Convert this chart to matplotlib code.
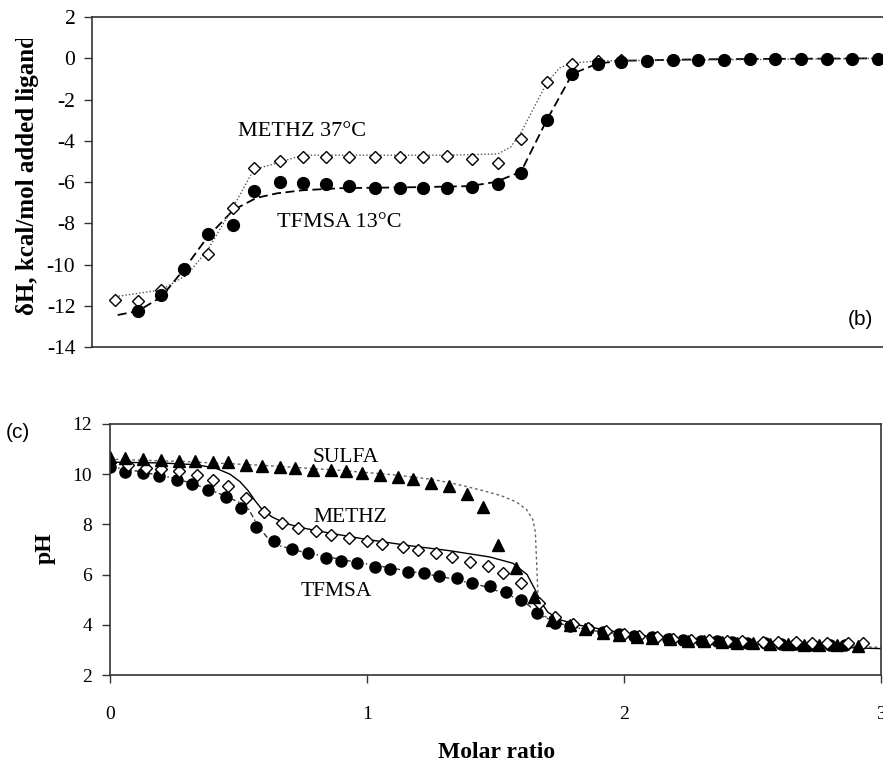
import matplotlib
matplotlib.use("Agg")
import matplotlib.pyplot as plt
from matplotlib.transforms import Bbox, TransformedBbox

plt.rcParams["font.family"] = ["Liberation Serif", "DejaVu Serif"]
plt.rcParams["axes.unicode_minus"] = False

# ---- panel (b): enthalpy vs molar ratio ----
x_b = [0.02, 0.11, 0.20, 0.29, 0.38, 0.48, 0.56, 0.66, 0.75, 0.84, 0.93, 1.03, 1.13, 1.22, 1.31, 1.41,
       1.51, 1.60, 1.70, 1.80, 1.90, 1.99, 2.09, 2.19, 2.29, 2.39, 2.49, 2.59, 2.69, 2.79, 2.89, 2.99]
methz_b = [-11.7, -11.75, -11.25, -10.25, -9.5, -7.25, -5.3, -5.0, -4.8, -4.8, -4.8, -4.8, -4.8, -4.8,
           -4.75, -4.9, -5.1, -3.9, -1.15, -0.3, -0.15, -0.1]
tfmsa_b = [-12.25, -11.5, -10.2, -8.5, -8.1, -6.45, -6.0, -6.05, -6.1, -6.2, -6.3, -6.3, -6.3, -6.3,
           -6.25, -6.1, -5.55, -3.0, -0.75, -0.3, -0.2, -0.15, -0.1, -0.1, -0.1, -0.05, -0.05, -0.05,
           -0.05, -0.05, -0.05]

fit_tfmsa_b_x = [0.03, 0.11, 0.20, 0.29, 0.38, 0.48, 0.57, 0.65, 0.75, 0.9, 1.2, 1.4, 1.5, 1.6, 1.7,
                 1.8, 1.9, 2.0, 2.3, 3.05]
fit_tfmsa_b_y = [-12.45, -12.25, -11.57, -10.2, -8.66, -7.36, -6.77, -6.55, -6.4, -6.3, -6.25, -6.2,
                 -6.0, -5.5, -3.0, -0.75, -0.25, -0.12, -0.05, 0.0]
fit_methz_b_x = [0.02, 0.20, 0.30, 0.38, 0.48, 0.56, 0.65, 0.75, 1.31, 1.51, 1.56, 1.60, 1.65, 1.70,
                 1.75, 1.80, 1.90, 3.05]
fit_methz_b_y = [-11.56, -11.23, -10.5, -9.3, -7.2, -5.4, -5.08, -4.7, -4.7, -4.64, -4.3, -3.6, -2.4,
                 -1.2, -0.47, -0.23, -0.13, 0.0]

# ---- panel (c): pH vs molar ratio ----
x_sulfa = [0.00, 0.06, 0.13, 0.20, 0.27, 0.33, 0.40, 0.46, 0.53, 0.59, 0.66, 0.72, 0.79, 0.86, 0.92,
           0.98, 1.05, 1.12, 1.18, 1.25, 1.32, 1.39, 1.45, 1.51, 1.58, 1.65, 1.72, 1.79, 1.85, 1.92,
           1.98, 2.05, 2.11, 2.18, 2.25, 2.31, 2.38, 2.44, 2.50, 2.57, 2.64, 2.70, 2.76, 2.83, 2.91]
ph_sulfa = [10.7, 10.64, 10.6, 10.55, 10.54, 10.51, 10.47, 10.47, 10.38, 10.34, 10.28, 10.25, 10.18,
            10.15, 10.11, 10.05, 9.98, 9.89, 9.81, 9.65, 9.54, 9.21, 8.69, 7.19, 6.26, 5.12, 4.19, 3.99,
            3.82, 3.69, 3.60, 3.53, 3.46, 3.42, 3.37, 3.37, 3.33, 3.29, 3.26, 3.24, 3.24, 3.20, 3.20,
            3.20, 3.17]

x_methz = [0.07, 0.14, 0.20, 0.27, 0.34, 0.40, 0.46, 0.53, 0.60, 0.67, 0.73, 0.80, 0.86, 0.93, 1.00,
           1.06, 1.14, 1.20, 1.27, 1.33, 1.40, 1.47, 1.53, 1.60, 1.67, 1.73, 1.80, 1.86, 1.93, 2.00,
           2.06, 2.13, 2.19, 2.26, 2.33, 2.40, 2.46, 2.54, 2.60, 2.67, 2.73, 2.79, 2.87, 2.93]
ph_methz = [10.38, 10.23, 10.21, 10.11, 9.98, 9.78, 9.54, 9.05, 8.51, 8.07, 7.85, 7.72, 7.56, 7.45,
            7.32, 7.21, 7.08, 6.99, 6.85, 6.69, 6.52, 6.36, 6.06, 5.66, 4.86, 4.3, 4.05, 3.88, 3.75,
            3.65, 3.57, 3.50, 3.45, 3.40, 3.38, 3.36, 3.34, 3.32, 3.31, 3.30, 3.29, 3.28, 3.27, 3.26]

x_tfmsa = [0.00, 0.06, 0.13, 0.19, 0.26, 0.32, 0.38, 0.45, 0.51, 0.57, 0.64, 0.71, 0.77, 0.84, 0.90,
           0.96, 1.03, 1.09, 1.16, 1.22, 1.28, 1.35, 1.41, 1.48, 1.54, 1.60, 1.66, 1.73, 1.79, 1.86,
           1.92, 1.98, 2.04, 2.11, 2.17, 2.23, 2.30, 2.36, 2.42, 2.48, 2.55, 2.61, 2.67, 2.73, 2.80,
           2.86]
ph_tfmsa = [10.30, 10.10, 10.06, 9.94, 9.78, 9.62, 9.38, 9.08, 8.66, 7.88, 7.32, 7.01, 6.85, 6.65,
            6.55, 6.46, 6.32, 6.22, 6.12, 6.06, 5.95, 5.86, 5.68, 5.55, 5.32, 4.99, 4.49, 4.09, 3.95,
            3.82, 3.72, 3.63, 3.56, 3.50, 3.45, 3.41, 3.37, 3.34, 3.31, 3.28, 3.26, 3.24, 3.22, 3.21,
            3.20, 3.19]

fit_sulfa_x = [0.0, 0.3, 0.6, 0.9, 1.1, 1.25, 1.35, 1.45, 1.52, 1.58, 1.62, 1.645, 1.655, 1.66, 1.665,
               1.667, 1.69, 1.75, 1.85, 2.0, 2.3, 2.6, 3.0]
fit_sulfa_y = [10.6, 10.5, 10.35, 10.15, 9.98, 9.8, 9.6, 9.35, 9.15, 8.9, 8.6, 8.2, 7.7, 6.5, 5.2, 4.7,
               4.35, 4.05, 3.82, 3.6, 3.4, 3.25, 3.1]
fit_methz_x = [0.0, 0.195, 0.331, 0.409, 0.467, 0.506, 0.537, 0.564, 0.591, 0.630, 0.681, 0.739, 0.856,
               1.0, 1.167, 1.323, 1.479, 1.568, 1.623, 1.654, 1.677, 1.704, 1.751, 1.829, 2.023, 2.296,
               2.541, 2.93, 3.0]
fit_methz_y = [10.48, 10.45, 10.38, 10.25, 10.0, 9.7, 9.35, 8.95, 8.6, 8.3, 8.05, 7.88, 7.65, 7.4,
               7.15, 6.95, 6.7, 6.45, 6.0, 5.4, 4.9, 4.5, 4.2, 3.98, 3.62, 3.35, 3.2, 3.07, 3.05]
fit_tfmsa_x = [0.0, 0.13, 0.26, 0.38, 0.45, 0.51, 0.54, 0.575, 0.61, 0.66, 0.75, 0.9, 1.1, 1.3, 1.45,
               1.55, 1.62, 1.68, 1.75, 1.85, 2.0, 2.3, 2.6, 2.9]
fit_tfmsa_y = [10.3, 10.08, 9.82, 9.42, 9.12, 8.85, 8.6, 7.95, 7.5, 7.15, 6.9, 6.6, 6.25, 5.9, 5.55,
               5.2, 4.85, 4.35, 4.05, 3.8, 3.62, 3.4, 3.27, 3.2]

W, H = 883, 761
fig = plt.figure(figsize=(W / 100, H / 100), dpi=100)


def fpos(x, y):
    return x / W, 1 - y / H


spine_col = "#333333"

# top panel (b)
ax1 = fig.add_axes([92 / W, 1 - 347 / H, (900 - 92) / W, 330 / H])
ax1.plot(fit_tfmsa_b_x, fit_tfmsa_b_y, color="black", lw=1.3, ls=(0, (5, 2.5)))
ax1.plot(fit_methz_b_x, fit_methz_b_y, color="#555555", lw=1.0, ls=(0, (1, 1.5)))
ax1.plot(x_b[:len(methz_b)], methz_b, ls="none", marker="D", ms=6.5, mfc="white", mec="black", mew=1.0)
ax1.plot(x_b[1:], tfmsa_b, ls="none", marker="o", ms=8.5, color="black")
ax1.set_xlim(-0.07, 3.075)
ax1.set_ylim(-14, 2)
ax1.set_yticks(range(-14, 3, 2))
ax1.set_xticks([])
ax1.tick_params(axis="y", direction="out", length=6, width=1, pad=6, labelsize=15.5, color=spine_col)
for s in ax1.spines.values():
    s.set_color(spine_col)
    s.set_linewidth(1.2)
ax1.spines["right"].set_visible(False)
ax1.text(0.5, -3.57, "METHZ 37°C", fontsize=16, va="center")
ax1.text(0.65, -7.95, "TFMSA 13°C", fontsize=16, va="center")
fig.text(*fpos(848, 320), "(b)", fontsize=15, family="Liberation Sans", va="center")

lab = fig.text(*fpos(28, 315), "δH, kcal/mol added ligand", rotation=90, ha="center", va="bottom",
               fontsize=18, fontweight="bold")
lab.set_clip_box(TransformedBbox(Bbox([[0, 0], [0.2, 1 - 39 / H]]), fig.transFigure))
lab.set_clip_on(True)

# bottom panel (c)
ax2 = fig.add_axes([110 / W, 1 - 675 / H, 771 / W, 251 / H])
ax2.plot(fit_sulfa_x, fit_sulfa_y, color="#666666", lw=1.0, ls=(0, (2, 2)))
ax2.plot(fit_methz_x, fit_methz_y, color="black", lw=1.0)
ax2.plot(fit_tfmsa_x, fit_tfmsa_y, color="#333333", lw=1.0, ls=(0, (4, 2, 1, 2)))
ax2.plot(x_tfmsa, ph_tfmsa, ls="none", marker="o", ms=8, color="black")
ax2.plot(x_methz, ph_methz, ls="none", marker="D", ms=6, mfc="white", mec="black", mew=1.0)
ax2.plot(x_sulfa, ph_sulfa, ls="none", marker="^", ms=8.5, color="black")
ax2.set_xlim(0, 3)
ax2.set_ylim(2, 12)
ax2.set_xticks([0, 1, 2, 3])
ax2.set_yticks(range(2, 13, 2))
ax2.tick_params(axis="y", direction="out", length=6, width=1, pad=7, labelsize=14, color=spine_col)
ax2.tick_params(axis="x", direction="out", length=6, width=1, pad=16, labelsize=14, color=spine_col)
for s in ax2.spines.values():
    s.set_color(spine_col)
    s.set_linewidth(1.2)
ax2.text(0.79, 10.66, "SULFA", fontsize=15.5, va="center")
ax2.text(0.79, 8.26, "METHZ", fontsize=15.5, va="center")
ax2.text(0.74, 5.31, "TFMSA", fontsize=15.5, va="center")
fig.text(*fpos(6, 433), "(c)", fontsize=15, family="Liberation Sans", va="center")
fig.text(*fpos(45, 548), "pH", rotation=90, ha="center", va="center", fontsize=17, fontweight="bold")
fig.text(*fpos(497, 752), "Molar ratio", ha="center", va="center", fontsize=17, fontweight="bold")

fig.savefig("out.png", dpi=100)
